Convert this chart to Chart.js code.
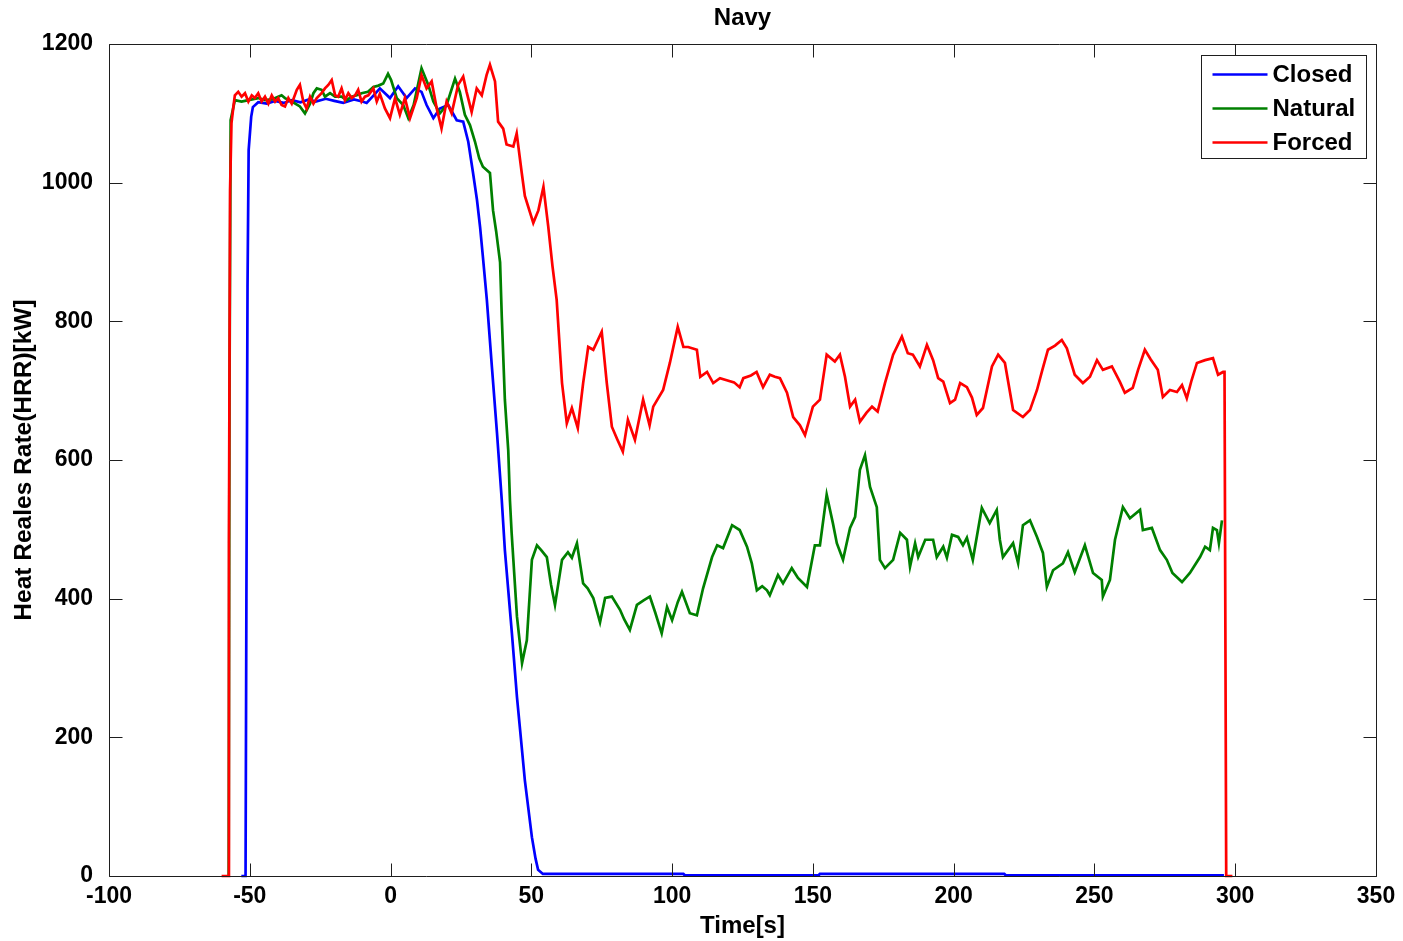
<!DOCTYPE html>
<html lang="en">
<head>
    <meta charset="UTF-8">
    <title>Navy</title>
    <script src="https://cdn.jsdelivr.net/npm/chart.js"></script>
    <style>
        body { margin: 0; background: #fff; }
        canvas { display: block; }
    </style>
</head>
<body>
<canvas id="hrrChart" width="1403" height="941"></canvas>

<script>
    // time [s], HRR [kW]
    const closedData = [
        [-53, 0], [-51.5, 0], [-51.2, 400], [-50.8, 850], [-50.4, 1047], [-49.5, 1095], [-48.9, 1109],
        [-47, 1116], [-44, 1114], [-41, 1118], [-38, 1115], [-35, 1119], [-32, 1116], [-29, 1120],
        [-26.6, 1117], [-23, 1121], [-20, 1118], [-16.8, 1115], [-13, 1120], [-10, 1117], [-8.5, 1115],
        [-6, 1126], [-3.8, 1136], [-0.2, 1122], [2.7, 1139], [5.7, 1122], [8.7, 1136], [11, 1131],
        [12.8, 1112], [15.2, 1093], [17.5, 1107], [20.5, 1112], [23.5, 1090], [25.8, 1088], [27.6, 1059],
        [29.3, 1014], [30.7, 975], [31.8, 936], [32.8, 893], [34.2, 831], [36, 734], [37.8, 639],
        [39.5, 542], [40.6, 470], [43.1, 350], [44.9, 258], [46, 211], [47.7, 138], [50.2, 56],
        [51.5, 25], [52.4, 9], [54.1, 3], [104, 3], [104.5, 1], [152, 1], [152.5, 3], [218, 3],
        [218.5, 1], [296, 1]
    ];

    const naturalData = [
        [-57.5, 0], [-57.2, 700], [-56.8, 1090], [-55.3, 1119], [-52.9, 1117], [-50.5, 1119], [-47, 1122],
        [-44.6, 1119], [-42.2, 1120], [-39.9, 1124], [-38.7, 1126], [-37.5, 1122], [-35.1, 1117],
        [-32.2, 1110], [-30.4, 1100], [-28.6, 1114], [-27.4, 1129], [-26.2, 1136], [-24.5, 1134],
        [-23.3, 1124], [-21.5, 1129], [-19.7, 1124], [-17.4, 1124], [-15.6, 1119], [-13.8, 1124],
        [-12, 1126], [-10.3, 1129], [-8, 1131], [-6.1, 1138], [-4.3, 1140], [-2.6, 1143], [-0.9, 1157],
        [0.2, 1148], [2.2, 1122], [4.5, 1112], [6.3, 1093], [8.2, 1112], [11, 1165], [13.4, 1141],
        [15.2, 1117], [17.5, 1100], [19.9, 1112], [22.9, 1150], [24.6, 1131], [26.4, 1098], [28.2, 1083],
        [30, 1059], [31.5, 1035], [32.8, 1023], [35.3, 1014], [36.4, 960], [37.5, 930], [38.9, 885],
        [39.5, 807], [40.6, 687], [41.8, 614], [42.4, 542], [43, 495], [44.9, 374], [46.7, 307],
        [48.4, 340], [50.2, 456], [52, 477], [53.5, 470], [55.5, 460], [57, 420], [58.4, 391],
        [60.9, 456], [63, 467], [64.4, 459], [66.2, 480], [68.4, 422], [70, 415], [72, 401], [74.4, 366],
        [76.2, 401], [78.6, 403], [81.5, 384], [83, 370], [85, 355], [87.5, 391], [90, 398], [92.1, 403],
        [94, 380], [96.3, 350], [98.2, 388], [100, 369], [102, 395], [103.5, 410], [106.3, 379],
        [108.8, 376], [111, 415], [114.2, 460], [116, 477], [118.1, 473], [121.3, 506], [124, 499],
        [126.6, 475], [128.3, 451], [130.1, 412], [132, 418], [133.7, 412], [134.7, 405], [137.6, 434],
        [139.4, 422], [142.5, 444], [144.7, 430], [147.9, 417], [150.7, 477], [152.5, 477], [154.9, 550],
        [157.1, 509], [158.5, 480], [160.7, 456], [163.2, 502], [165, 518], [166.7, 586], [168.5, 607],
        [170.3, 561], [172.7, 532], [173.8, 456], [175.6, 444], [178.5, 456], [181, 495], [183.4, 485],
        [184.5, 446], [186.3, 480], [187.4, 460], [189.9, 485], [192.7, 485], [194, 460], [196.3, 475],
        [197.6, 459], [199.4, 492], [201.6, 489], [203.3, 477], [204.7, 488], [206.8, 456], [210, 531],
        [212.8, 509], [215.3, 528], [216.4, 485], [217.5, 460], [221.1, 480], [222.9, 451], [224.6, 506],
        [227.1, 513], [229.6, 489], [231.7, 466], [233.1, 417], [235.3, 441], [238.8, 451], [240.6, 467],
        [243, 438], [246.6, 477], [249.5, 437], [252.6, 427], [253, 403], [255.5, 427], [257.3, 485],
        [260.1, 532], [262.6, 516], [266.2, 528], [267.2, 499], [270.4, 502], [273.3, 470], [275.7, 456],
        [277.7, 437], [281.1, 424], [283.9, 437], [287.5, 460], [289.3, 475], [291, 470], [292.1, 502],
        [293.5, 499], [294.2, 480], [295.3, 513]
    ];

    const forcedData = [
        [-60, 0], [-57.6, 0], [-57.4, 480], [-57, 990], [-56.5, 1086], [-55.8, 1110], [-55.3, 1126],
        [-54.1, 1131], [-52.9, 1124], [-51.7, 1129], [-50.5, 1117], [-49.3, 1126], [-48.2, 1122],
        [-47, 1129], [-45.8, 1117], [-44.6, 1124], [-43.4, 1114], [-42.2, 1126], [-41, 1117],
        [-39.9, 1122], [-38.7, 1112], [-37.5, 1110], [-36.3, 1122], [-35.1, 1114], [-33.3, 1134],
        [-32.2, 1141], [-31, 1117], [-29.8, 1107], [-28.6, 1124], [-27.4, 1114], [-26.2, 1122],
        [-24.5, 1129], [-23.3, 1136], [-22.1, 1141], [-20.9, 1148], [-19.7, 1126], [-18.6, 1124],
        [-17.4, 1136], [-16.2, 1119], [-15, 1129], [-13.8, 1122], [-12.6, 1126], [-11.5, 1134],
        [-10.3, 1117], [-9.1, 1124], [-7.9, 1126], [-6.1, 1136], [-4.9, 1117], [-3.8, 1128], [-2, 1107],
        [-0.2, 1093], [1.6, 1122], [3.3, 1098], [5.1, 1122], [6.9, 1093], [9.3, 1122], [11, 1155],
        [12.8, 1136], [14.6, 1146], [16.4, 1107], [18.1, 1078], [19.9, 1117], [21.7, 1100], [24, 1141],
        [25.8, 1153], [27, 1131], [28.8, 1102], [30.6, 1136], [32.4, 1126], [34.1, 1155], [35.3, 1170],
        [37.1, 1146], [38.2, 1088], [40, 1078], [41.2, 1055], [43.6, 1052], [44.8, 1071], [46.6, 1014],
        [47.7, 981], [50.7, 942], [52.5, 960], [54.3, 994], [56, 937], [57.5, 880], [59, 831],
        [60.9, 711], [62.6, 653], [64.4, 675], [66.5, 646], [68.4, 711], [70.2, 763], [72, 759],
        [75, 785], [76.8, 711], [78.6, 648], [80.5, 630], [82.5, 612], [84.3, 658], [86.8, 629],
        [89.7, 687], [92, 650], [93.3, 677], [96.8, 701], [99.2, 740], [102, 792], [104, 763],
        [105.7, 763], [108.8, 759], [110, 720], [112.4, 727], [114.6, 711], [117, 718], [119.4, 715],
        [122, 712], [124, 705], [125.3, 718], [128, 722], [130, 727], [132.3, 705], [134.7, 723],
        [136.5, 720], [138.3, 718], [140.8, 697], [143, 662], [145.4, 650], [147.2, 636], [150, 677],
        [152.5, 687], [154.9, 752], [157.8, 742], [159.6, 752], [161.4, 720], [163.2, 677], [165, 687],
        [166.7, 655], [169, 668], [171, 677], [173, 670], [175.6, 711], [178.5, 752], [181.6, 778],
        [183.7, 754], [185.5, 752], [188, 735], [190.5, 766], [192.7, 744], [194.5, 718], [196.3, 713],
        [198.7, 682], [200.5, 687], [202.3, 711], [204.7, 705], [206.5, 690], [208.2, 665], [210.4, 675],
        [213.6, 735], [215.8, 752], [218.2, 740], [221.1, 672], [224.6, 662], [227.1, 672], [229.6, 701],
        [231.5, 730], [233.5, 759], [236, 765], [238.4, 773], [240.2, 761], [243, 723], [245.9, 711],
        [248.4, 720], [250.9, 744], [253, 730], [256.2, 735], [259, 713], [260.8, 697], [263.6, 704],
        [265.5, 730], [267.9, 759], [270, 745], [272.5, 730], [274.3, 691], [276.8, 701], [279.3, 698],
        [281.1, 708], [282.8, 689], [284.5, 715], [286.4, 740], [289.3, 744], [292.1, 747], [293.9, 723],
        [295.7, 727], [296.2, 727], [296.5, 360], [296.8, 0], [299, 0]
    ];

    const seriesNames = ['Closed', 'Natural', 'Forced'];
    const seriesColors = ['#0000ff', '#008000', '#ff0000'];
    const xTicks = [-100, -50, 0, 50, 100, 150, 200, 250, 300, 350];
    const yTicks = [0, 200, 400, 600, 800, 1000, 1200];

    const FONT = 'Liberation Sans, Arial, Helvetica, sans-serif';

    function toPoints(rows) {
        return rows.map(r => ({x: r[0], y: r[1]}));
    }

    // box + inward ticks on all four sides, matlab style
    const framePlugin = {
        id: 'frame',
        afterDatasetsDraw(chart) {
            const {ctx, chartArea: a, scales} = chart;
            const l = Math.round(a.left) + 0.5, r = Math.round(a.right) + 0.5;
            const t = Math.round(a.top) + 0.5, b = Math.round(a.bottom) + 0.5;
            const len = 13;
            ctx.save();
            ctx.strokeStyle = '#1e1e1e';
            ctx.lineWidth = 1;
            ctx.beginPath();
            ctx.rect(l, t, r - l, b - t);
            scales.x.ticks.forEach(tk => {
                const px = Math.round(scales.x.getPixelForValue(tk.value)) + 0.5;
                ctx.moveTo(px, b); ctx.lineTo(px, b - len);
                ctx.moveTo(px, t); ctx.lineTo(px, t + len);
            });
            scales.y.ticks.forEach(tk => {
                const py = Math.round(scales.y.getPixelForValue(tk.value)) + 0.5;
                ctx.moveTo(l, py); ctx.lineTo(l + len, py);
                ctx.moveTo(r, py); ctx.lineTo(r - len, py);
            });
            ctx.stroke();
            ctx.restore();
        }
    };

    // legend box inside the top right corner
    const legendPlugin = {
        id: 'boxLegend',
        afterDraw(chart) {
            const {ctx, chartArea: a} = chart;
            const w = 165, h = 103;
            const x0 = Math.round(a.right) - 10 - w + 0.5, y0 = Math.round(a.top) + 11 + 0.5;
            ctx.save();
            ctx.fillStyle = '#fff';
            ctx.fillRect(x0, y0, w, h);
            ctx.strokeStyle = '#1e1e1e';
            ctx.lineWidth = 1;
            ctx.strokeRect(x0, y0, w, h);
            ctx.font = 'bold 24px ' + FONT;
            ctx.textBaseline = 'middle';
            ctx.textAlign = 'left';
            chart.data.datasets.forEach((ds, i) => {
                const yy = y0 + 19 + i * 34;
                ctx.strokeStyle = ds.borderColor;
                ctx.lineWidth = 2.5;
                ctx.beginPath();
                ctx.moveTo(x0 + 11, yy);
                ctx.lineTo(x0 + 66, yy);
                ctx.stroke();
                ctx.fillStyle = '#000';
                ctx.fillText(ds.label, x0 + 71, yy + 1);
            });
            ctx.restore();
        }
    };

    const datasets = [closedData, naturalData, forcedData].map((rows, i) => ({
        label: seriesNames[i],
        data: toPoints(rows),
        borderColor: seriesColors[i],
        backgroundColor: seriesColors[i],
        borderWidth: 2.7,
        pointRadius: 0,
        showLine: true,
        tension: 0,
        clip: 6,
        order: 2 - i
    }));

    new Chart(document.getElementById('hrrChart'), {
        type: 'scatter',
        data: {datasets: datasets},
        options: {
            responsive: false,
            animation: false,
            devicePixelRatio: 1,
            layout: {padding: {top: 0, right: 27, bottom: 0, left: 0}},
            plugins: {
                legend: {display: false},
                tooltip: {enabled: false},
                title: {
                    display: true,
                    text: 'Navy',
                    fullSize: false,
                    color: '#000',
                    font: {family: FONT, size: 24, weight: 'bold', lineHeight: 1.2},
                    padding: {top: 4, bottom: 11.2}
                }
            },
            scales: {
                x: {
                    type: 'linear',
                    min: -100,
                    max: 350,
                    afterBuildTicks: s => { s.ticks = xTicks.map(v => ({value: v})); },
                    afterFit: s => { s.height = 65; },
                    grid: {display: false},
                    border: {display: false},
                    ticks: {
                        color: '#000', padding: -1,
                        font: {family: FONT, size: 23, weight: 'bold'},
                        callback: v => String(v)
                    },
                    title: {
                        display: true,
                        text: 'Time[s]',
                        color: '#000',
                        font: {family: FONT, size: 24, weight: 'bold', lineHeight: 1.2},
                        padding: {top: 0, bottom: 0}
                    }
                },
                y: {
                    type: 'linear',
                    min: 0,
                    max: 1200,
                    afterBuildTicks: s => { s.ticks = yTicks.map(v => ({value: v})); },
                    afterFit: s => { s.width = 109; },
                    grid: {display: false},
                    border: {display: false},
                    ticks: {
                        color: '#000', padding: 8,
                        font: {family: FONT, size: 23, weight: 'bold'},
                        callback: v => String(v)
                    },
                    title: {
                        display: true,
                        text: 'Heat Reales Rate(HRR)[kW]',
                        color: '#000',
                        font: {family: FONT, size: 24.5, weight: 'bold', lineHeight: 1.2},
                        padding: {top: 10, bottom: 0}
                    }
                }
            }
        },
        plugins: [framePlugin, legendPlugin]
    });
</script>
</body>
</html>
